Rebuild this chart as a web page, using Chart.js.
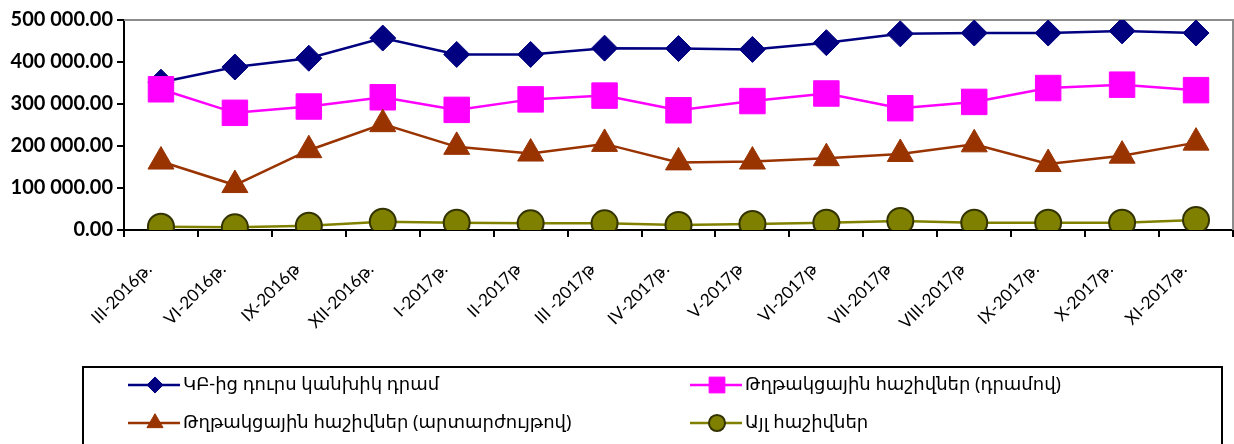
<!DOCTYPE html>
<html>
<head>
<meta charset="utf-8">
<script src="https://cdn.jsdelivr.net/npm/chart.js@4.4.0/dist/chart.umd.min.js"></script>
<style>
  body { margin: 0; background: #fff; }
  #wrap { width: 1234px; height: 444px; position: relative; }
</style>
</head>
<body>
<div id="wrap"><canvas id="grafico"></canvas></div>
<script>
// Ամիսներ (x առանցք)
let periodos = ['III-2016թ.', 'VI-2016թ.', 'IX-2016թ', 'XII-2016թ.', 'I-2017թ.', 'II-2017թ', 'III -2017թ',
    'IV-2017թ.', 'V-2017թ', 'VI-2017թ', 'VII-2017թ', 'VIII-2017թ', 'IX-2017թ.', 'X-2017թ.', 'XI-2017թ.'];

let nomes = ['ԿԲ-ից դուրս կանխիկ դրամ', 'Թղթակցային հաշիվներ (դրամով)',
    'Թղթակցային հաշիվներ (արտարժույթով)', 'Այլ հաշիվներ'];

let valoresCaixa = [352000, 388000, 409000, 457000, 418000, 418000, 433000, 432000, 430000, 446000, 467000, 469000, 469000, 474000, 469000];
let valoresDram = [335000, 279000, 294000, 316000, 286000, 311000, 320000, 285000, 307000, 325000, 290000, 305000, 338000, 346000, 333000];
let valoresMoeda = [163000, 107000, 190000, 252000, 198000, 182000, 205000, 161000, 163000, 171000, 181000, 204000, 157000, 177000, 208000];
let valoresOutros = [7900, 6300, 10200, 19800, 17400, 16000, 16000, 12000, 14300, 17400, 21400, 17400, 17400, 17400, 23800];

let yTicks = [0, 100000, 200000, 300000, 400000, 500000];

function formataNumero(v) {
    let partes = v.toFixed(2).split('.');
    return partes[0].replace(/\B(?=(\d{3})+(?!\d))/g, ' ') + '.' + partes[1];
}

// borda cinza em cima e à direita
const bordaPlugin = {
    id: 'borda',
    beforeDatasetsDraw(chart) {
        const a = chart.chartArea, ctx = chart.ctx;
        ctx.save();
        ctx.strokeStyle = '#8c8c8c';
        ctx.lineWidth = 2;
        ctx.beginPath();
        ctx.moveTo(a.left, a.top);
        ctx.lineTo(a.right, a.top);
        ctx.lineTo(a.right, a.bottom);
        ctx.stroke();
        ctx.restore();
    }
};

// legenda desenhada à mão (2 colunas, com linha + marcador)
const legendaPlugin = {
    id: 'legendaCaixa',
    afterDraw(chart) {
        const ctx = chart.ctx;
        ctx.save();
        ctx.strokeStyle = '#000';
        ctx.lineWidth = 2;
        ctx.strokeRect(83, 367, 1139, 90);
        const posicoes = [[128, 385], [690, 385], [128, 423], [690, 423]];
        chart.data.datasets.forEach((ds, i) => {
            const [x0, y] = posicoes[i];
            ctx.strokeStyle = ds.borderColor;
            ctx.lineWidth = 2.5;
            ctx.beginPath();
            ctx.moveTo(x0, y);
            ctx.lineTo(x0 + 52, y);
            ctx.stroke();
            ctx.fillStyle = ds.pointBackgroundColor;
            ctx.strokeStyle = ds.pointBorderColor;
            ctx.lineWidth = ds.pointBorderWidth;
            Chart.helpers.drawPoint(ctx, {
                pointStyle: ds.pointStyle,
                radius: ds.pointRadius * 0.62,
                rotation: 0,
                borderWidth: ds.pointBorderWidth
            }, x0 + 27, y);
            ctx.fillStyle = '#000';
            ctx.font = '18px "Noto Sans", "DejaVu Sans", sans-serif';
            ctx.textBaseline = 'middle';
            ctx.fillText(ds.label, x0 + 55, y);
        });
        ctx.restore();
    }
};

document.addEventListener('DOMContentLoaded', function () {
    let ctx1 = document.getElementById('grafico').getContext('2d');
    new Chart(ctx1, {
        type: 'line',
        data: {
            labels: periodos,
            datasets: [{
                label: nomes[0],
                data: valoresCaixa,
                borderColor: '#000080',
                borderWidth: 2.5,
                pointStyle: 'rectRot',
                pointRadius: 13,
                pointBackgroundColor: '#000080',
                pointBorderColor: '#000080',
                pointBorderWidth: 1,
                order: 4
            }, {
                label: nomes[1],
                data: valoresDram,
                borderColor: '#ff00ff',
                borderWidth: 2.5,
                pointStyle: 'rect',
                pointRadius: 18,
                pointBackgroundColor: '#ff00ff',
                pointBorderColor: '#ff00ff',
                pointBorderWidth: 1,
                order: 3
            }, {
                label: nomes[2],
                data: valoresMoeda,
                borderColor: '#993300',
                borderWidth: 2.5,
                pointStyle: 'triangle',
                pointRadius: 15,
                pointBackgroundColor: '#993300',
                pointBorderColor: '#993300',
                pointBorderWidth: 1,
                order: 2
            }, {
                label: nomes[3],
                data: valoresOutros,
                borderColor: '#808000',
                borderWidth: 2.5,
                pointStyle: 'circle',
                pointRadius: 13,
                pointBackgroundColor: '#808000',
                pointBorderColor: '#333300',
                pointBorderWidth: 2,
                order: 1
            }]
        },
        options: {
            responsive: true,
            maintainAspectRatio: false,
            animation: false,
            layout: { autoPadding: false, padding: { top: 20, right: 1, bottom: 78, left: 0 } },
            plugins: {
                legend: { display: false },
                tooltip: { enabled: false }
            },
            scales: {
                x: {
                    offset: true,
                    border: { color: '#000', width: 2 },
                    grid: { offset: true, drawOnChartArea: false, color: '#000', tickLength: 7, lineWidth: 2 },
                    ticks: {
                        color: '#000',
                        maxRotation: 45,
                        minRotation: 45,
                        padding: 22,
                        labelOffset: -12,
                        autoSkip: false,
                        font: { family: 'Lato, "Noto Sans", sans-serif', size: 17 }
                    },
                    afterFit(scale) {
                        scale.height = 136;
                        scale.paddingLeft = 0;
                        scale.paddingRight = 0;
                    }
                },
                y: {
                    min: 0,
                    max: 500000,
                    border: { color: '#000', width: 2 },
                    grid: { drawOnChartArea: false, color: '#000', tickLength: 7, lineWidth: 2 },
                    afterBuildTicks(scale) { scale.ticks = yTicks.map(v => ({ value: v })); },
                    ticks: {
                        color: '#000',
                        padding: 4,
                        font: { family: 'Lato, "Noto Sans", sans-serif', size: 20, weight: 'bold' },
                        callback: v => formataNumero(v)
                    },
                    afterFit(scale) {
                        scale.width = 124;
                        scale.paddingTop = 0;
                        scale.paddingBottom = 0;
                    }
                }
            }
        },
        plugins: [bordaPlugin, legendaPlugin]
    });
});
</script>
</body>
</html>
